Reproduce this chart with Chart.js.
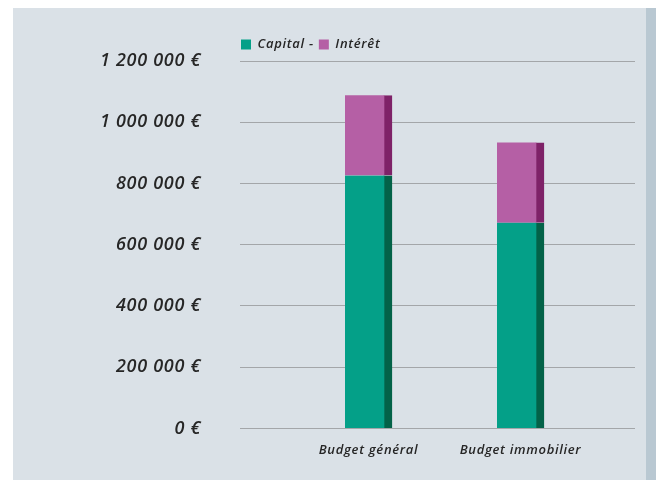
<!DOCTYPE html>
<html>
<head>
<meta charset="utf-8">
<script src="https://cdn.jsdelivr.net/npm/chart.js@4"></script>
<style>
  html, body { margin: 0; padding: 0; background: #ffffff; }
  #panel { position: absolute; left: 13px; top: 8px; width: 633px; height: 472px; background: #dae1e7; }
  #strip { position: absolute; left: 646px; top: 8px; width: 10px; height: 472px; background: #b9c8d2; }
  #wrap { position: absolute; left: 0; top: 0; width: 662px; height: 480px; }
</style>
</head>
<body>
<div id="panel"></div>
<div id="strip"></div>
<div id="wrap"><canvas id="chart" width="662" height="480"></canvas></div>
<script>
// ---- data ----
const categories = ['Budget général', 'Budget immobilier'];
const seriesNames = ['Capital -', 'Intérêt'];
const capitalValues = [826000, 672000];
const interetValues = [262000, 262000];
const yTickValues = [0, 200000, 400000, 600000, 800000, 1000000, 1200000];

const fmtEuro = v => String(v).replace(/\B(?=(\d{3})+(?!\d))/g, ' ') + ' €';
const toPoints = arr => arr.map((v, i) => ({ x: i, y: v }));

const textColor = '#262626';
const fontFamily = "'Open Sans', 'Liberation Sans', sans-serif";

const spacingPlugin = {
  id: 'letterSpacing',
  beforeUpdate: chart => { chart.ctx.letterSpacing = '0.7px'; },
  beforeDraw: chart => { chart.ctx.letterSpacing = '0.7px'; }
};

new Chart(document.getElementById('chart'), {
  type: 'bar',
  plugins: [spacingPlugin],
  data: {
    datasets: [
      {
        label: seriesNames[0],
        data: toPoints(capitalValues),
        backgroundColor: '#04a088',
        borderColor: '#036248',
        borderWidth: { top: 0, right: 8, bottom: 0, left: 0 },
        borderSkipped: false,
        barThickness: 47
      },
      {
        label: seriesNames[1],
        data: toPoints(interetValues),
        backgroundColor: '#b55fa5',
        borderColor: '#7e2268',
        borderWidth: { top: 0, right: 8, bottom: 0, left: 0 },
        borderSkipped: false,
        barThickness: 47
      }
    ]
  },
  options: {
    responsive: false,
    animation: false,
    layout: { padding: { left: 0, right: 27, top: 37, bottom: 8 } },
    plugins: {
      tooltip: { enabled: false },
      legend: {
        position: 'top',
        align: 'start',
        fullSize: false,
        labels: {
          boxWidth: 10,
          boxHeight: 10,
          padding: 1,
          color: textColor,
          font: { family: fontFamily, size: 13, style: 'italic', weight: '600', lineHeight: 1.0 },
          generateLabels: chart => Chart.defaults.plugins.legend.labels.generateLabels(chart).map(l => Object.assign(l, { text: l.text + ' ', lineWidth: 0, strokeStyle: 'rgba(0,0,0,0)' }))
        }
      }
    },
    scales: {
      x: {
        type: 'linear',
        stacked: true,
        offset: false,
        min: -0.8454,
        max: 1.7533,
        afterBuildTicks: s => { s.ticks = categories.map((c, i) => ({ value: i })); },
        grid: { display: false, drawTicks: false, offset: false },
        border: { display: false },
        ticks: {
          autoSkip: false,
          maxRotation: 0,
          padding: 14,
          color: textColor,
          font: { family: fontFamily, size: 13, style: 'italic', weight: '600' },
          callback: v => categories[v]
        }
      },
      y: {
        stacked: true,
        min: 0,
        max: 1200000,
        afterBuildTicks: s => { s.ticks = yTickValues.map(v => ({ value: v })); },
        afterFit: s => { s.width = 240; },
        grid: { color: '#a3a6a9', lineWidth: 1, drawTicks: false },
        border: { display: false },
        ticks: {
          padding: 39,
          color: textColor,
          font: { family: fontFamily, size: 18, style: 'italic', weight: '600' },
          callback: v => fmtEuro(v)
        }
      }
    }
  }
});
</script>
</body>
</html>
